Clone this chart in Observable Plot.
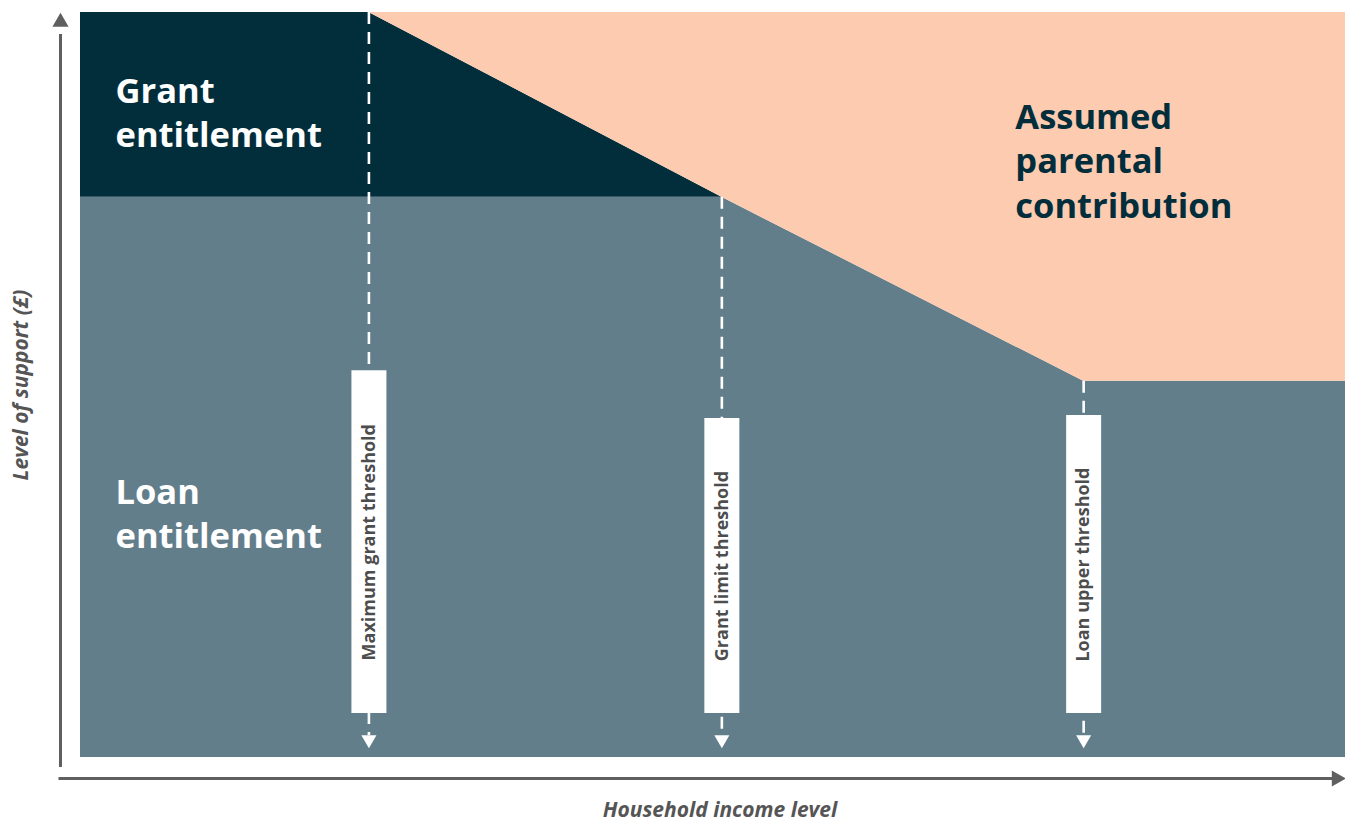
<!DOCTYPE html>
<html>
<head>
<meta charset="utf-8">
<script src="https://cdn.jsdelivr.net/npm/d3@7"></script>
<script src="https://cdn.jsdelivr.net/npm/@observablehq/plot@0.6"></script>
<style>
  html, body { margin: 0; padding: 0; background: #ffffff; }
  #chart svg { display: block; }
</style>
</head>
<body>
<div id="chart"></div>
<script>
// ---- Data (schematic, in relative units 0–100) ----
const incomeLevel   = [0, 22.8, 50.7, 79.3, 100];     // household income breakpoints
const totalSupport  = [100, 100, 75.2, 50.5, 50.5];   // grant + loan entitlement
const loanSupport   = [75.2, 75.2, 75.2, 50.5, 50.5]; // loan entitlement
const maxLevel = 100;

const thresholdNames  = ["Maximum grant threshold", "Grant limit threshold", "Loan upper threshold"];
const thresholdIncome = [22.8, 50.7, 79.3];
const thresholdStart  = [100, 75.2, 50.5];   // where each threshold line meets the boundary
const labelBoxTop     = [51.9, 45.5, 45.9];
const labelBoxBottom  = 5.9;

const regionNames = ["Grant\nentitlement", "Loan\nentitlement", "Assumed\nparental\ncontribution"];

// ---- Tables built from arrays ----
const curve = incomeLevel.map((x, i) => ({x, total: totalSupport[i], loan: loanSupport[i]}));
const thresholds = thresholdNames.map((name, i) => ({
  name, x: thresholdIncome[i], start: thresholdStart[i], top: labelBoxTop[i],
  mid: (labelBoxTop[i] + labelBoxBottom) / 2
}));

const navy = "#022e3c", slate = "#627e8b", peach = "#fccbb0", axisGray = "#5f5f5f";
const font = "'Open Sans', sans-serif";

const chart = Plot.plot({
  width: 1345,
  height: 823,
  marginLeft: 80,
  marginRight: 0,
  marginTop: 12,
  marginBottom: 66,
  x: {domain: [0, 100], axis: null},
  y: {domain: [0, maxLevel], axis: null},
  style: {fontFamily: font, overflow: "visible", background: "white"},
  marks: [
    // regions
    Plot.areaY(curve, {x: "x", y1: 0, y2: "loan", fill: slate}),
    Plot.areaY(curve, {x: "x", y1: "loan", y2: "total", fill: navy}),
    Plot.areaY(curve.filter(d => d.x >= thresholdIncome[0]), {x: "x", y1: "total", y2: maxLevel, fill: peach}),

    // threshold dashed lines
    Plot.ruleX(thresholds, {x: "x", y1: "start", y2: 0, insetBottom: 22, stroke: "white", strokeWidth: 2.6, strokeDasharray: "12,8"}),
    Plot.dot(thresholds, {x: "x", y: 0, dy: -18, symbol: "triangle", r: 5.6, rotate: 180, fill: "white", stroke: "none"}),

    // label boxes
    Plot.ruleX(thresholds, {x: "x", y1: labelBoxBottom, y2: "top", stroke: "white", strokeWidth: 35}),
    Plot.text(thresholds, {x: "x", y: "mid", text: "name", rotate: -90, fill: "#4d4d4d", fontSize: 18, fontWeight: "bold"}),

    // region labels
    Plot.text([regionNames[0]], {x: 0, y: 86.8, dx: 35, text: d => d, textAnchor: "start", lineAnchor: "middle", lineHeight: 1.28, fill: "white", fontSize: 34.5, fontWeight: "bold"}),
    Plot.text([regionNames[1]], {x: 0, y: 33.0, dx: 35, text: d => d, textAnchor: "start", lineAnchor: "middle", lineHeight: 1.28, fill: "white", fontSize: 34.5, fontWeight: "bold"}),
    Plot.text([regionNames[2]], {x: 73.9, y: 80.3, text: d => d, textAnchor: "start", lineAnchor: "middle", lineHeight: 1.28, fill: navy, fontSize: 34.5, fontWeight: "bold"}),

    // axes with arrows
    Plot.ruleX([0], {dx: -20, y1: 0, y2: maxLevel, insetBottom: -22, insetTop: 10, stroke: axisGray, strokeWidth: 3}),
    Plot.dot([0], {x: 0, y: maxLevel, dx: -20, dy: 9.5, symbol: "triangle", r: 6, fill: axisGray, stroke: "none"}),
    Plot.ruleY([0], {dy: 21, x1: 0, x2: 100, insetLeft: -21.5, insetRight: 10, stroke: axisGray, strokeWidth: 3}),
    Plot.dot([0], {x: 100, y: 0, dx: -9, dy: 21, symbol: "triangle", r: 6, rotate: 90, fill: axisGray, stroke: "none"}),

    // axis labels
    Plot.text(["Level of support (£)"], {frameAnchor: "left", dx: -59, rotate: -90, textAnchor: "middle", lineAnchor: "middle", text: d => d, fill: "#555", fontSize: 21, fontWeight: "bold", fontStyle: "italic"}),
    Plot.text(["Household income level"], {frameAnchor: "bottom", dx: 7, dy: 53, textAnchor: "middle", lineAnchor: "middle", text: d => d, fill: "#555", fontSize: 21, fontWeight: "bold", fontStyle: "italic"})
  ]
});
document.getElementById("chart").appendChild(chart);
</script>
</body>
</html>
